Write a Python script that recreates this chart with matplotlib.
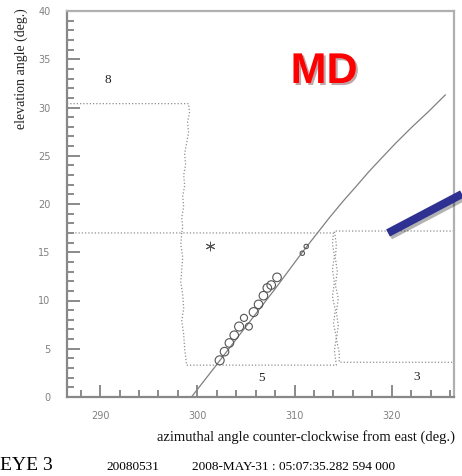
import matplotlib
matplotlib.use("Agg")
import matplotlib.pyplot as plt
import matplotlib.patheffects as pe
from matplotlib.lines import Line2D
from matplotlib.ticker import MultipleLocator

# shower track fit (azimuth, elevation in deg.)
trk_az = [299.4, 301.8, 305.0, 308.0, 310.8, 312.2, 313.6, 315.0, 316.4, 317.6, 318.8, 320.4, 322.0, 323.8, 325.5]
trk_el = [0.0, 3.1, 7.3, 11.2, 15.0, 16.8, 18.6, 20.3, 21.9, 23.3, 24.6, 26.3, 27.9, 29.6, 31.3]

# triggered pixels
pix_az = [302.3, 302.8, 303.3, 303.8, 304.3, 304.8, 305.3, 305.8, 306.3, 306.8, 307.2, 307.6, 308.2, 310.8, 311.2]
pix_el = [3.8, 4.7, 5.6, 6.4, 7.3, 8.2, 7.3, 8.8, 9.6, 10.5, 11.3, 11.6, 12.4, 14.9, 15.6]
pix_sz = [42, 38, 38, 38, 42, 26, 26, 42, 38, 38, 38, 38, 38, 10, 10]

# star position
star_az, star_el = 301.3, 15.6

# mirror field-of-view outlines
m8_az = [286.6, 299.1, 299.2, 299.0, 299.1, 298.9, 298.7, 298.8, 298.6, 298.7, 298.5, 298.6, 298.4, 298.5, 298.4, 286.6]
m8_el = [30.4, 30.4, 29.5, 28.5, 27.4, 26.3, 25.2, 24.1, 23.0, 21.9, 20.8, 19.7, 18.6, 17.6, 17.0, 17.0]

m5_az = [298.4, 298.3, 298.5, 298.4, 298.3, 298.5, 298.6, 298.4, 298.6, 298.7, 298.9,
         314.3, 314.1, 314.3, 314.0, 314.2, 313.9, 314.1, 313.9, 314.1, 313.9, 314.0, 298.4]
m5_el = [17.0, 15.8, 14.5, 13.2, 11.9, 10.6, 9.2, 7.9, 6.5, 5.0, 3.3,
         3.3, 4.8, 6.2, 7.6, 9.0, 10.4, 11.8, 13.2, 14.6, 15.9, 17.0, 17.0]

m3_az = [326.4, 314.1, 314.3, 314.2, 314.4, 314.2, 314.5, 314.3, 314.5, 314.3, 314.6, 314.6, 326.4]
m3_el = [17.2, 17.2, 15.8, 14.4, 13.0, 11.6, 10.2, 8.8, 7.4, 6.0, 4.6, 3.6, 3.6]

mirror_labels = ["8", "5", "3"]
label_az = [290.8, 306.6, 322.6]
label_el = [32.8, 2.0, 2.1]

fig = plt.figure(figsize=(4.62, 4.76), dpi=100)
ax = fig.add_axes([67 / 462, 1 - 397 / 476, (454 - 67) / 462, (397 - 11) / 476])

dot = dict(color="#8f8f8f", lw=0.9, ls=(0, (1, 1.6)))
for az, el in [(m8_az, m8_el), (m5_az, m5_el), (m3_az, m3_el)]:
    ax.plot(az, el, **dot)

ax.plot(trk_az, trk_el, color="#808080", lw=0.9)
ax.scatter(pix_az, pix_el, s=pix_sz, facecolors="none", edgecolors="#555555", linewidths=0.8, zorder=3)
ax.scatter([star_az], [star_el], marker=(6, 2, 0), s=40, color="#555555", linewidths=0.7)

for t, x, y in zip(mirror_labels, label_az, label_el):
    ax.text(x, y, t, fontsize=9.5, family="Liberation Serif", ha="center", va="center", color="#222222")

ax.set_xlim(286.6, 326.4)
ax.set_ylim(0, 40)
ax.xaxis.set_major_locator(MultipleLocator(10))
ax.xaxis.set_minor_locator(MultipleLocator(2))
ax.yaxis.set_major_locator(MultipleLocator(5))
ax.yaxis.set_minor_locator(MultipleLocator(1))
ax.tick_params(which="both", direction="in", top=False, right=False, colors="#777777",
               labelcolor="#808080", labelsize=7)
ax.tick_params(which="major", length=9, width=1.2)
ax.tick_params(which="minor", length=5, width=1.2)
ax.tick_params(axis="x", pad=10)
ax.tick_params(axis="y", pad=12)
for lab in ax.get_xticklabels() + ax.get_yticklabels():
    lab.set_family("DejaVu Sans")
for side in ["left", "bottom"]:
    ax.spines[side].set_color("#888888")
    ax.spines[side].set_linewidth(1.6)
for side in ["top", "right"]:
    ax.spines[side].set_color("#b0b0b0")
    ax.spines[side].set_linewidth(1.6)

serif = "Liberation Serif"
fig.text(21 / 462, 1 - 8 / 476, "elevation angle (deg.)", rotation=90, ha="center", va="top",
         fontsize=10, family=serif, color="#222222")
fig.text(455 / 462, 1 - 437 / 476, "azimuthal angle counter-clockwise from east (deg.)",
         ha="right", va="center", fontsize=10.5, family=serif, color="#111111")
fig.text(0, 1 - 465 / 476, "EYE 3", ha="left", va="center", fontsize=14, family=serif)
fig.text(106 / 462, 1 - 467 / 476, "20080531", ha="left", va="center", fontsize=9.5, family=serif)
fig.text(192 / 462, 1 - 467 / 476, "2008-MAY-31 : 05:07:35.282 594 000", ha="left", va="center",
         fontsize=9.5, family=serif)

# "MD" callout and the blue pointer
fig.text(324 / 462, 1 - 72 / 476, "MD", ha="center", va="center", fontsize=31, fontweight="bold",
         family="Liberation Sans", color="#ff0000",
         path_effects=[pe.SimplePatchShadow(offset=(1.5, -1.5), alpha=0.35), pe.Normal()])
pointer = Line2D([388 / 462, 1.0], [1 - 233 / 476, 1 - 194 / 476], transform=fig.transFigure,
                 color="#2e3192", lw=5.8, solid_capstyle="butt",
                 path_effects=[pe.SimpleLineShadow(offset=(1.5, -2), alpha=0.3), pe.Normal()])
fig.add_artist(pointer)

fig.savefig("out.png", dpi=100)
